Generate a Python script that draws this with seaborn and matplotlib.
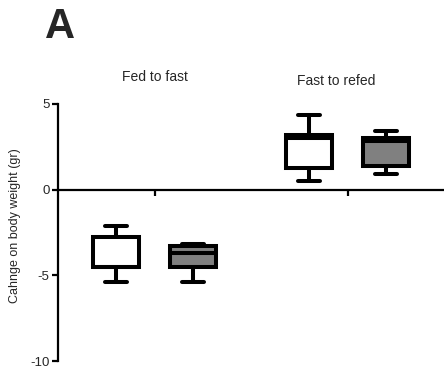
import matplotlib
matplotlib.use('Agg')
import matplotlib.pyplot as plt
import pandas as pd
import seaborn as sns

# five-number summaries: min, Q1, median, Q3, max
periods = ['Fed to fast', 'Fast to refed']
groups = ['Group 1', 'Group 2']
fed_fast_g1 = [-5.36, -4.50, -4.50, -2.77, -2.10]
fed_fast_g2 = [-5.41, -4.50, -3.69, -3.30, -3.17]
fast_refed_g1 = [0.49, 1.28, 3.03, 3.21, 4.33]
fast_refed_g2 = [0.90, 1.41, 2.85, 2.99, 3.43]
y_ticks = [5, 0, -5, -10]
y_label = 'Cahnge on body weight (gr)'

rows = []
for period, g1, g2 in [(periods[0], fed_fast_g1, fed_fast_g2),
                       (periods[1], fast_refed_g1, fast_refed_g2)]:
    rows += [(period, groups[0], v) for v in g1]
    rows += [(period, groups[1], v) for v in g2]
df = pd.DataFrame(rows, columns=['period', 'group', 'change'])

sns.set_style('white')
plt.rcParams['font.family'] = ['Liberation Sans', 'DejaVu Sans']

fig = plt.figure(figsize=(4.44, 3.75), dpi=100)
ax = fig.add_axes([58 / 444, 1 - 361 / 375, 1 - 58 / 444, (361 - 104) / 375])

sns.boxplot(data=df, x='period', y='change', hue='group', order=periods,
            hue_order=groups, palette={'Group 1': 'white', 'Group 2': '#808080'},
            saturation=1, linecolor='black', linewidth=2.9, whis=(0, 100),
            width=0.8, gap=0.41, legend=False, ax=ax)

ax.set_xlim(-0.5, 1.5)
ax.set_ylim(-10, 5)
ax.set_yticks(y_ticks)
ax.set_yticklabels([str(t) for t in y_ticks], fontsize=9.5)
ax.set_xticks([0, 1])
ax.set_xticklabels([])
ax.set_xlabel('')
ax.set_ylabel('')

for s in ['top', 'right']:
    ax.spines[s].set_visible(False)
ax.spines['bottom'].set_position(('data', 0))
for s in ['left', 'bottom']:
    ax.spines[s].set_linewidth(1.6)
    ax.spines[s].set_color('black')
ax.tick_params(axis='both', direction='out', length=4.5, width=1.6,
               color='black', left=True, bottom=True, pad=1.5)

# category labels above the plot
fig.text(155 / 444, 1 - 77 / 375, periods[0], ha='center', va='center', fontsize=10)
fig.text(336 / 444, 1 - 81 / 375, periods[1], ha='center', va='center', fontsize=10)

fig.text(15 / 444, 1 - 226 / 375, y_label, rotation=90, ha='center',
         va='center', fontsize=9)
fig.text(60 / 444, 1 - 38 / 375, 'A', ha='center', va='baseline',
         fontsize=30, fontweight='bold')

fig.savefig('out.png', dpi=100)
